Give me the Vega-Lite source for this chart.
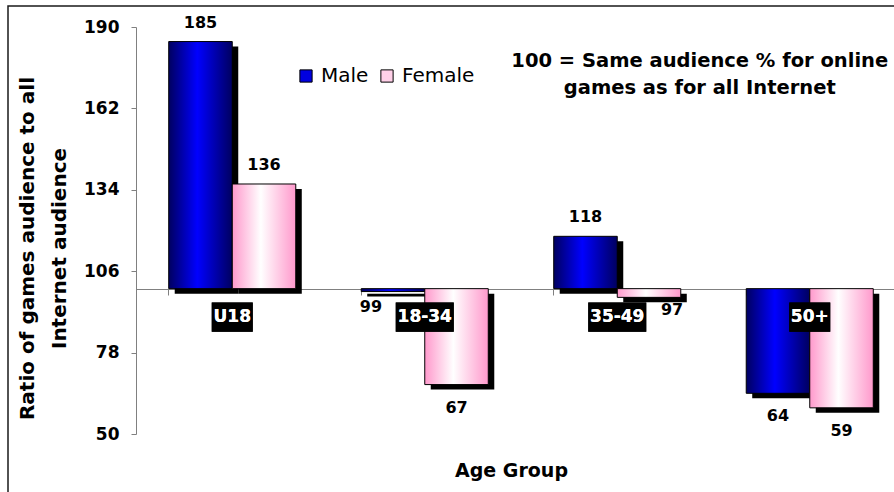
{
  "$schema": "https://vega.github.io/schema/vega-lite/v6.json",
  "autosize": {"type": "none"},
  "padding": {"left": 8, "top": 6, "right": -6, "bottom": -6},
  "width": 892,
  "height": 492,
  "background": "white",
  "config": {
    "view": {"stroke": "#1a1a1a", "strokeWidth": 1.5},
    "font": "DejaVu Sans"
  },
  "data": {
    "values": [
      {"age": "U18", "gender": "Male", "value": 185},
      {"age": "U18", "gender": "Female", "value": 136},
      {"age": "18-34", "gender": "Male", "value": 99},
      {"age": "18-34", "gender": "Female", "value": 67},
      {"age": "35-49", "gender": "Male", "value": 118},
      {"age": "35-49", "gender": "Female", "value": 97},
      {"age": "50+", "gender": "Male", "value": 64},
      {"age": "50+", "gender": "Female", "value": 59}
    ]
  },
  "resolve": {"scale": {"xOffset": "independent"}},
  "encoding": {
    "x": {
      "field": "age",
      "type": "nominal",
      "sort": ["U18", "18-34", "35-49", "50+"],
      "scale": {"range": [128, 898], "paddingInner": 0.34, "paddingOuter": 0.17},
      "axis": {
        "offset": -209,
        "domainColor": "#808080",
        "domainWidth": 1.2,
        "tickColor": "#808080",
        "tickSize": 6,
        "bandPosition": 0,
        "labels": false,
        "title": "Age Group",
        "titleFontSize": 19,
        "titleFontWeight": "bold",
        "titleColor": "black",
        "titleX": 503,
        "titleY": 172
      }
    }
  },
  "layer": [
    {
      "mark": {"type": "bar", "fill": "black", "yOffset": 5, "y2Offset": 5},
      "encoding": {
        "xOffset": {"field": "gender", "type": "nominal", "sort": ["Male", "Female"], "scale": {"type": "band", "domain": ["Male", "Female"], "range": [6, 133.05], "paddingInner": 0, "paddingOuter": 0}},
        "y": {
          "field": "value",
          "type": "quantitative",
          "scale": {"domain": [50, 190], "range": [428, 21], "nice": false, "zero": false},
          "axis": {
            "values": [50, 78, 106, 134, 162, 190],
            "offset": -128,
            "grid": false,
            "domainColor": "#808080",
            "tickColor": "#808080",
            "tickSize": 5,
            "labelFontSize": 17,
            "labelFontWeight": "bold",
            "labelColor": "black",
            "labelPadding": 12,
            "title": ["Ratio of games audience to all", "Internet audience"],
            "titleFontSize": 20,
            "titleFontWeight": "bold",
            "titleColor": "black",
            "titleLineHeight": 32,
            "titleX": -99,
            "titleY": 242
          }
        },
        "y2": {"datum": 100}
      }
    },
    {
      "transform": [{"filter": "datum.gender === 'Male'"}],
      "mark": {"type": "bar", "stroke": "black", "strokeWidth": 1,
        "fill": {"gradient": "linear", "x1": 0, "y1": 0, "x2": 1, "y2": 0, "stops": [
          {"offset": 0, "color": "#000060"},
          {"offset": 0.45, "color": "#0000ff"},
          {"offset": 1, "color": "#000060"}
        ]}},
      "encoding": {
        "xOffset": {"field": "gender", "type": "nominal", "scale": {"type": "band", "domain": ["Male", "Female"], "paddingInner": 0, "paddingOuter": 0}},
        "y": {"field": "value", "type": "quantitative"},
        "y2": {"datum": 100}
      }
    },
    {
      "transform": [{"filter": "datum.gender === 'Female'"}],
      "mark": {"type": "bar", "stroke": "black", "strokeWidth": 1,
        "fill": {"gradient": "linear", "x1": 0, "y1": 0, "x2": 1, "y2": 0, "stops": [
          {"offset": 0, "color": "#ff99cc"},
          {"offset": 0.45, "color": "#ffffff"},
          {"offset": 1, "color": "#ff99cc"}
        ]}},
      "encoding": {
        "xOffset": {"field": "gender", "type": "nominal", "scale": {"type": "band", "domain": ["Male", "Female"], "paddingInner": 0, "paddingOuter": 0}},
        "y": {"field": "value", "type": "quantitative"},
        "y2": {"datum": 100}
      }
    },
    {
      "mark": {"type": "text", "text": ""},
      "encoding": {
        "y": {"field": "value", "type": "quantitative"},
        "color": {
          "field": "gender",
          "type": "nominal",
          "sort": ["Male", "Female"],
          "scale": {"domain": ["Male", "Female"], "range": ["#0000e0", "#ffd0e8"]},
          "legend": {
            "orient": "none",
            "legendX": 288,
            "legendY": 60,
            "direction": "horizontal",
            "title": null,
            "symbolType": "square",
            "symbolSize": 150,
            "symbolStrokeColor": "black",
            "symbolStrokeWidth": 1,
            "symbolOpacity": 1,
            "labelFont": "DejaVu Sans",
            "labelFontSize": 20,
            "labelColor": "black",
            "labelOffset": 5,
            "columnPadding": 8
          }
        }
      }
    },
    {
      "mark": {"type": "bar", "fill": "black"},
      "encoding": {
        "y": {"datum": 95.2},
        "y2": {"datum": 85.2},
        "size": {"field": "age", "type": "nominal", "scale": {"type": "ordinal", "domain": ["U18", "18-34", "35-49", "50+"], "range": [41, 58, 58, 41]}, "legend": null}
      }
    },
    {
      "mark": {"type": "text", "color": "white", "fontWeight": "bold", "fontSize": 17, "baseline": "middle"},
      "encoding": {
        "y": {"datum": 90.2},
        "text": {"field": "age"}
      }
    },
    {
      "transform": [{"filter": "datum.value >= 100"}],
      "mark": {"type": "text", "color": "black", "fontWeight": "bold", "fontSize": 16, "baseline": "middle", "dy": -19},
      "encoding": {
        "xOffset": {"field": "gender", "type": "nominal", "scale": {"type": "band", "domain": ["Male", "Female"], "paddingInner": 0, "paddingOuter": 0}},
        "y": {"field": "value", "type": "quantitative"},
        "text": {"field": "value"}
      }
    },
    {
      "transform": [{"filter": "datum.value < 90"}],
      "mark": {"type": "text", "color": "black", "fontWeight": "bold", "fontSize": 16, "baseline": "middle", "dy": 23},
      "encoding": {
        "xOffset": {"field": "gender", "type": "nominal", "scale": {"type": "band", "domain": ["Male", "Female"], "paddingInner": 0, "paddingOuter": 0}},
        "y": {"field": "value", "type": "quantitative"},
        "text": {"field": "value"}
      }
    },
    {
      "transform": [{"filter": "datum.value >= 90 && datum.value < 100 && datum.gender === 'Male'"}],
      "mark": {"type": "text", "color": "black", "fontWeight": "bold", "fontSize": 16, "baseline": "middle", "dy": 15, "dx": -22},
      "encoding": {
        "xOffset": {"field": "gender", "type": "nominal", "scale": {"type": "band", "domain": ["Male", "Female"], "paddingInner": 0, "paddingOuter": 0}},
        "y": {"field": "value", "type": "quantitative"},
        "text": {"field": "value"}
      }
    },
    {
      "transform": [{"filter": "datum.value >= 90 && datum.value < 100 && datum.gender === 'Female'"}],
      "mark": {"type": "text", "color": "black", "fontWeight": "bold", "fontSize": 16, "baseline": "middle", "dy": 13, "dx": 23},
      "encoding": {
        "xOffset": {"field": "gender", "type": "nominal", "scale": {"type": "band", "domain": ["Male", "Female"], "paddingInner": 0, "paddingOuter": 0}},
        "y": {"field": "value", "type": "quantitative"},
        "text": {"field": "value"}
      }
    },
    {
      "data": {"values": [{"note": "100 = Same audience % for online\ngames as for all Internet"}]},
      "mark": {"type": "text", "color": "black", "fontWeight": "bold", "fontSize": 19.5, "baseline": "middle", "lineBreak": "\n", "lineHeight": 27, "dx": -110},
      "encoding": {
        "x": {"datum": "50+"},
        "y": {"datum": 178.3},
        "text": {"field": "note"}
      }
    }
  ]
}
